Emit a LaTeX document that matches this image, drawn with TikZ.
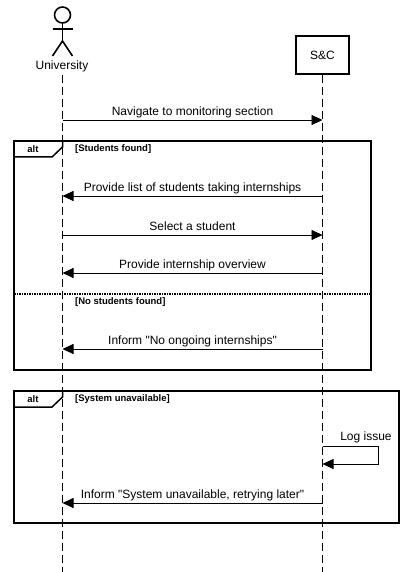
\documentclass[tikz,border=0pt]{standalone}
\usepackage{fontspec}
\setmainfont{Liberation Sans}[Ligatures=TeXOff]
\usetikzlibrary{arrows.meta}
\tikzset{
	msg/.style={line width=0.8pt, -{Triangle[length=11pt,width=10pt]}},
	msglabel/.style={midway, above, inner sep=0pt, yshift=1.5pt, text depth=3pt, font=\fontsize{12}{14}\selectfont},
	lifeline/.style={line width=1.1pt, dash pattern=on 8pt off 4pt},
	frame/.style={line width=1.5pt},
	guard/.style={inner sep=0pt, anchor=west, font=\fontsize{9.5}{11}\selectfont\bfseries}
}
\begin{document}
\begin{tikzpicture}[x=1pt, y=-1pt]
	\useasboundingbox (0,0) rectangle (412,572);
	\foreach \name/\ypos in {nav/120, list/196, sel/235, over/273, none/349, selfa/446, selfb/464, retry/503, top/75, end/572}{
		\coordinate (u\name) at (62.5,\ypos);
		\coordinate (s\name) at (322.5,\ypos);
	}

	% lifelines
	\node[inner sep=0pt, font=\fontsize{12}{14}\selectfont] (university) at (62,66) {University};
	\node[draw, line width=1.5pt, minimum width=53pt, minimum height=38pt, inner sep=0pt, font=\fontsize{12}{14}\selectfont] (sc) at (322.5,55) {S\&C};
	\draw[lifeline](utop)--(uend);
	\draw[lifeline](sc.south)--(send);

	% actor
	\draw[line width=1.6pt](62.5,15) circle (8);
	\draw[line width=1.6pt](62.5,23)--(62.5,41);
	\draw[line width=1.6pt](52.5,29)--(72.5,29);
	\draw[line width=1.6pt](52.5,56)--(62.5,41)--(72.5,56);

	% frames
	\draw[frame](14,141) rectangle (371,370);
	\draw[frame](14,157)--(52,157)--(62.5,147)--(62.5,141);
	\node[inner sep=0pt, font=\fontsize{9.5}{11}\selectfont\bfseries] (alta) at (33,149) {alt};
	\node[guard] (founda) at (75,149) {[Students found]};
	\draw[line width=1.5pt, densely dotted](14,294)--(371,294);
	\node[guard] (foundb) at (75,302) {[No students found]};

	\draw[frame](14,391) rectangle (399,523);
	\draw[frame](14,407)--(52,407)--(62.5,397)--(62.5,391);
	\node[inner sep=0pt, font=\fontsize{9.5}{11}\selectfont\bfseries] (altb) at (33,399) {alt};
	\node[guard] (sysdown) at (75,399) {[System unavailable]};

	% messages
	\draw[msg](unav)--(snav) node[msglabel]{Navigate to monitoring section};
	\draw[msg](slist)--(ulist) node[msglabel]{Provide list of students taking internships};
	\draw[msg](usel)--(ssel) node[msglabel]{Select a student};
	\draw[msg](sover)--(uover) node[msglabel]{Provide internship overview};
	\draw[msg](snone)--(unone) node[msglabel]{Inform "No ongoing internships"};
	\coordinate (loopa) at (378,446);
	\coordinate (loopb) at (378,464);
	\draw[msg](sselfa)--(loopa)--(loopb)--(sselfb);
	\node[inner sep=0pt, font=\fontsize{12}{14}\selectfont] (logissue) at (366,437) {Log issue};
	\draw[msg](sretry)--(uretry) node[msglabel]{Inform "System unavailable, retrying later"};
\end{tikzpicture}
\end{document}
